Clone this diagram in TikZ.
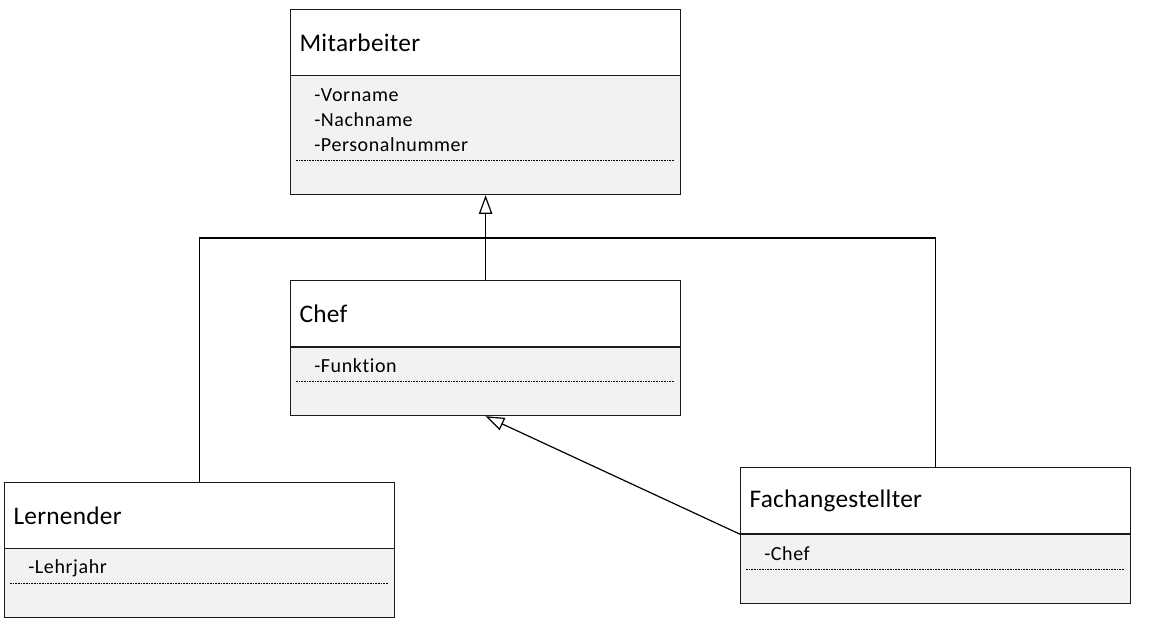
\documentclass[tikz,border=0pt]{standalone}
\usepackage{fontspec}
\setmainfont{Carlito}[Ligatures=NoCommon]
\newfontfamily\attrfont{Carlito}[Ligatures=NoCommon, LetterSpace=3]
\newfontfamily\hdrfont{Carlito}[Ligatures=NoCommon, LetterSpace=1]
\usetikzlibrary{arrows.meta}
\definecolor{attrfill}{HTML}{F2F2F2}
\definecolor{linecol}{HTML}{1A1A1A}
\tikzset{
  hdr/.style={draw=linecol, line width=0.9pt, fill=white, rectangle, minimum width=292.5pt,
    minimum height=49.5pt, inner xsep=6.75pt, inner ysep=0pt, text width=279pt, align=left,
    font=\hdrfont\fontsize{19pt}{22pt}\selectfont, anchor=north west},
  attrbox/.style={draw=linecol, line width=0.9pt, fill=attrfill, rectangle, minimum width=292.5pt,
    inner sep=0pt, anchor=north west},
  attr/.style={anchor=west, inner sep=0pt, font=\attrfont\fontsize{15pt}{17pt}\selectfont},
  dotline/.style={line width=0.6pt, dash pattern=on 1.2pt off 0.8pt},
  conn/.style={draw=black, line width=0.9pt},
  gen/.style={conn, -{Triangle[open, length=14pt, width=10pt]}}
}
\begin{document}
\begin{tikzpicture}[x=0.75pt,y=-0.75pt]
\useasboundingbox (0,0) rectangle (1168,642);
% Mitarbeiter
\node[attrbox, minimum height=89.25pt] (mita) at (290,75) {};
\node[hdr] (mith) at (290,9) {Mitarbeiter};
\node[attr] (mit1) at (314,95) {-Vorname};
\node[attr] (mit2) at (314,120) {-Nachname};
\node[attr] (mit3) at (314,145) {-Personalnummer};
\draw[dotline] (296,160) -- (674,160);
% Chef
\node[attrbox, minimum height=51pt] (chefa) at (290,347) {};
\node[hdr] (chefh) at (290,280) {Chef};
\node[attr] (chef1) at (314,366) {-Funktion};
\draw[dotline] (296,381) -- (674,381);
% Lernender
\node[attrbox, minimum height=51.75pt] (lerna) at (4,548) {};
\node[hdr] (lernh) at (4,482) {Lernender};
\node[attr] (lern1) at (28,568) {-Lehrjahr};
\draw[dotline] (10,583) -- (388,583);
% Fachangestellter
\node[attrbox, minimum height=51.75pt] (facha) at (740,534) {};
\node[hdr] (fachh) at (740,467) {Fachangestellter};
\node[attr] (fach1) at (764,554) {-Chef};
\draw[dotline] (746,569) -- (1124,569);
% connectors
\coordinate (j) at (485,238);
\draw[conn] (lernh.north) -- (lernh.north |- j) -- (fachh.north |- j) -- (fachh.north);
\draw[gen] (chefh.north) -- (mita.south);
\draw[gen] (fachh.south west) -- (chefa.south);
\end{tikzpicture}
\end{document}
